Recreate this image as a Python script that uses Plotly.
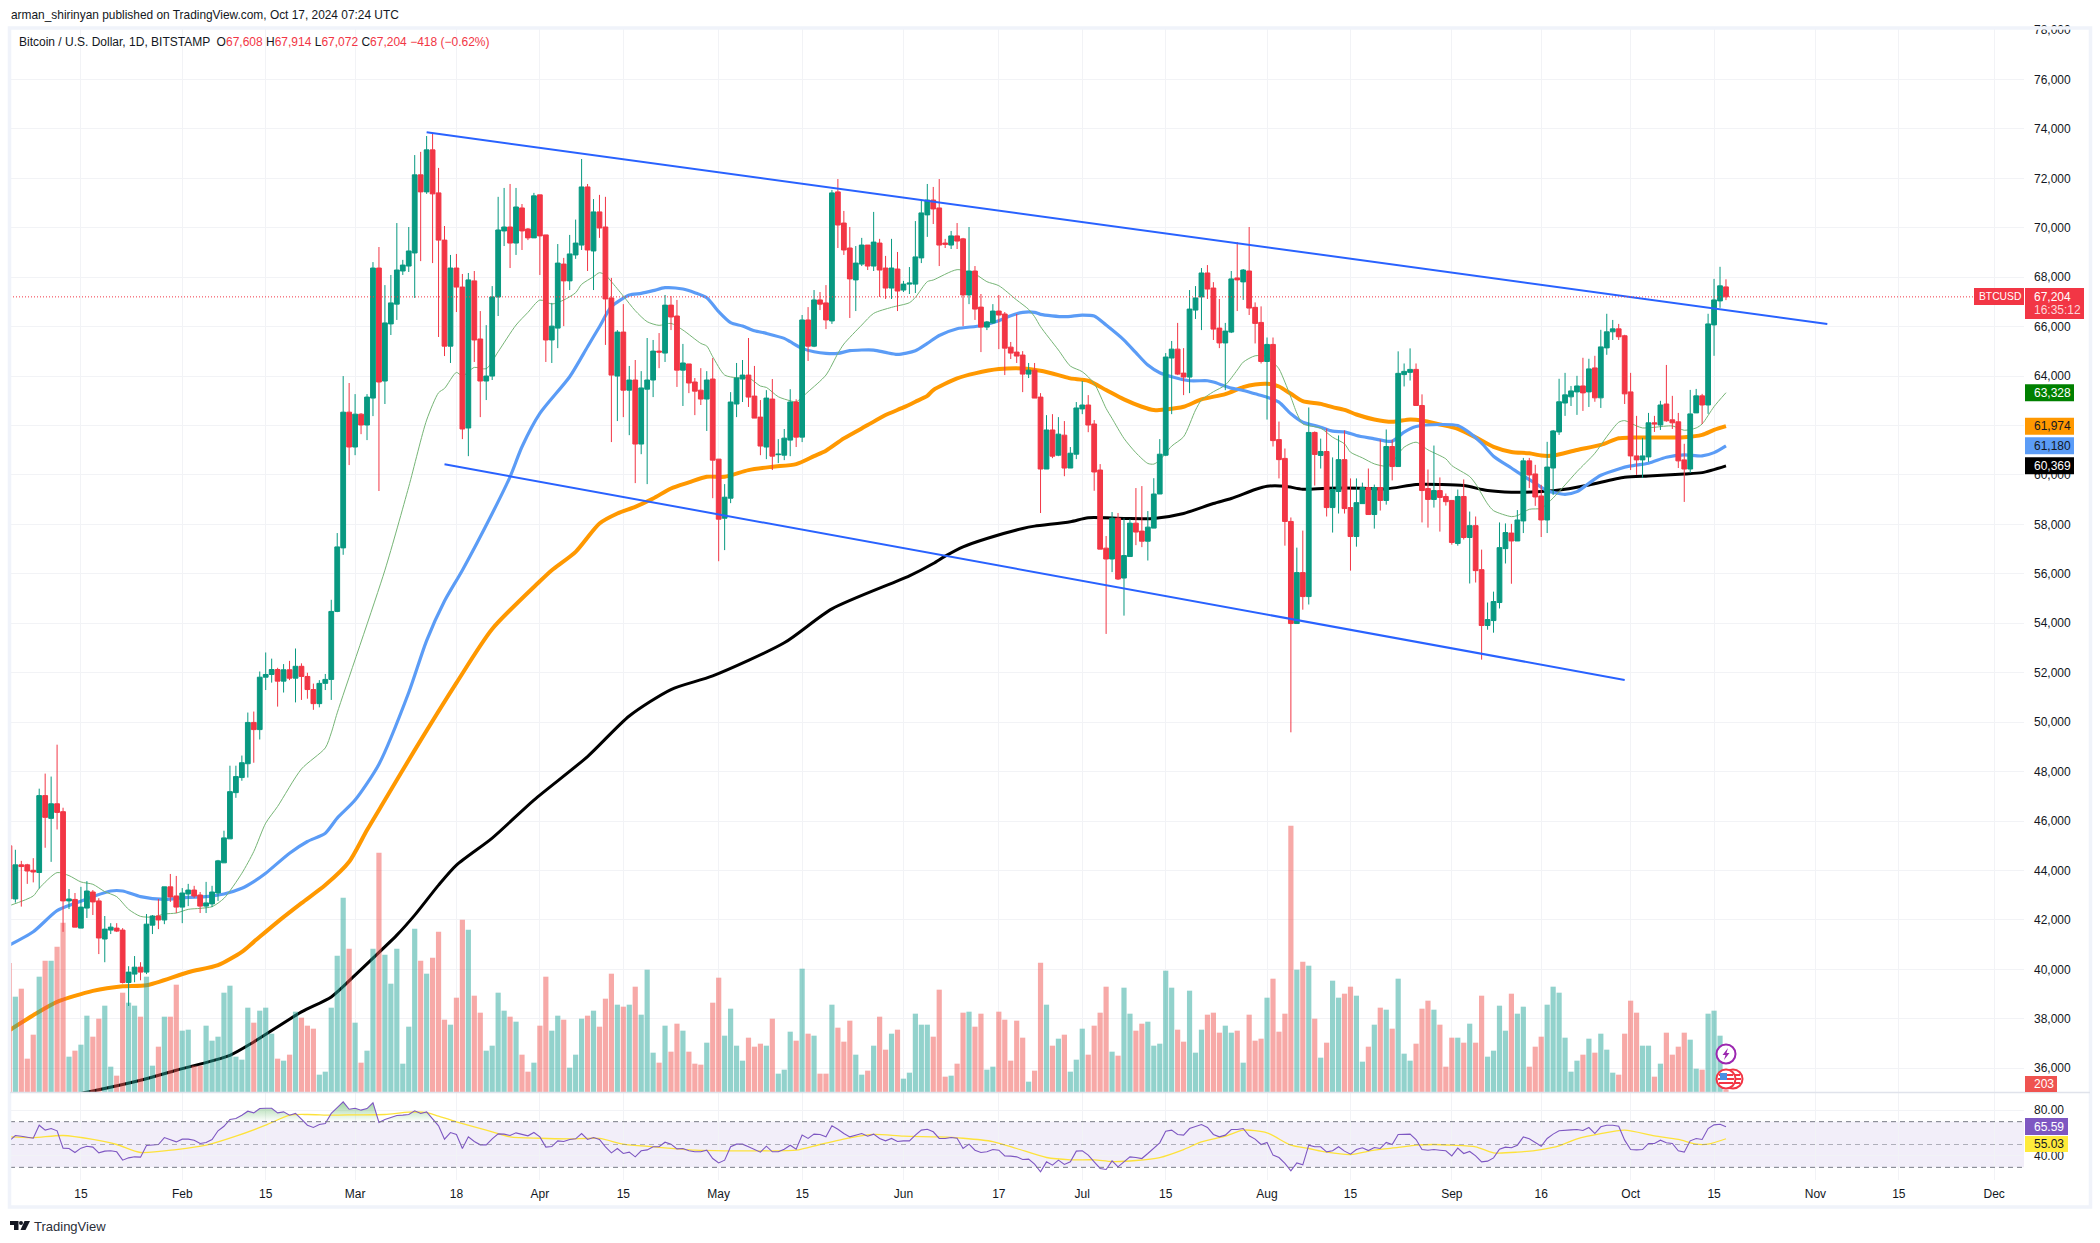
import pandas as pd
import plotly.graph_objects as go

tick_dates = ["2024-01-15","2024-02-01","2024-02-15","2024-03-01","2024-03-18","2024-04-01","2024-04-15","2024-05-01","2024-05-15","2024-06-01","2024-06-17","2024-07-01","2024-07-15","2024-08-01","2024-08-15","2024-09-01","2024-09-16","2024-10-01","2024-10-15","2024-11-01","2024-11-15","2024-12-01"]
tick_labels = ["15","Feb","15","Mar","18","Apr","15","May","15","Jun","17","Jul","15","Aug","15","Sep","16","Oct","15","Nov","15","Dec"]

open_prices = [
45000,42850,44230,44230,44010,43920,47030,46110,46700,46380,42770,42830,41670,42480,43130,42770,41230,41590,41670,41590,39470,39810,40090,39890,41790,42160,42000,43340,42970,
42520,43050,43210,43010,42560,42650,43090,44310,45280,47150,47760,48320,49990,49700,51820,51930,52130,51660,52120,51780,52260,51850,51320,50750,51570,51730,54480,57050,62540,
61130,62460,62020,63110,68370,63800,66110,66910,68250,68450,68980,72140,71450,73150,71410,69500,65210,68370,67600,61900,67850,65500,63800,64000,67200,69870,70030,69380,70800,69950,69590,
71330,69710,65460,65940,68530,67850,68900,69300,71650,69060,70640,70030,67160,64000,65780,63430,63840,61250,63470,63840,65010,64930,66870,66430,64240,64490,63760,63430,63070,63880,
60640,58250,59060,62870,63880,64040,63190,62340,61130,63070,60820,60800,61410,62950,61530,66270,65210,67080,66960,66230,71450,70190,69180,67890,68530,69300,68450,69380,68370,67560,68330,
67480,67720,67720,68780,70520,71120,70800,69380,69300,69670,69550,67280,68250,66790,65980,66150,66630,66510,65170,64970,64850,64080,64240,63150,60240,61820,60800,61610,60280,60840,
62670,62830,62060,60200,57040,56600,58250,55830,56700,58050,57730,57320,57850,59230,60800,64730,65090,64120,63960,66670,67200,68170,67560,65940,65340,65780,67970,67810,68250,66780,66170,
64590,65280,61430,60670,58120,53990,56050,55080,61720,60790,60950,58680,59330,60620,58680,57510,58840,59490,58400,59490,58970,61150,60340,64060,64150,64270,62810,59450,59010,59370,59130,
58970,57230,59130,57470,57950,56170,53910,54110,54840,57020,57650,57330,58140,60570,60040,59150,58180,60280,61740,62910,63160,63360,63600,63360,64330,63120,65140,65790,65910,65630,
63360,60770,60610,60730,62110,62020,62870,62230,62150,60610,60240,62510,63200,62830,66070,67040,67608]
high_prices = [
45500,44840,44390,44270,44500,47310,47920,47800,49090,46540,43250,43090,43340,43570,43210,42880,42160,41870,41870,41670,40130,40540,40290,42240,42200,42850,43340,43860,43780,
43290,43460,43380,43130,43540,43380,44430,45610,48240,48240,48650,50390,50430,52050,52820,52570,52200,52350,52480,52980,52380,52000,51560,51700,51950,54950,57650,64000,63720,
63270,62500,63270,68610,69220,67680,68090,70190,68700,70030,72940,73070,73710,73840,72420,70070,68900,68940,68130,68170,68250,66630,66060,67640,71250,71610,71770,71610,70960,69990,71410,
71330,69710,66960,69340,68780,69710,70330,72780,71770,71160,71330,71250,67970,65860,66910,64410,64650,64200,65540,65460,65740,67280,67240,67080,65300,64490,63920,64320,64200,64730,
60640,59630,63350,64530,64650,65540,64410,63030,63430,63880,61450,61860,63470,63060,66470,66790,67480,67400,67680,71530,71970,70680,70030,69260,69590,69300,70640,69550,68860,69550,69020,
67850,68410,70270,71120,71770,71650,71970,69550,69870,70190,69590,70030,68450,67320,66230,66910,67280,66590,65380,66510,65010,64530,64530,63310,62420,62460,62340,62180,61130,62950,
63800,63230,62220,60440,57530,58500,58460,58240,58210,59470,59550,58540,59870,61450,64930,65420,66150,65130,67480,67640,68370,68490,67800,67120,66150,68250,69420,68330,70030,66980,66820,
65560,65560,62160,61070,58280,57060,57750,62730,61760,61470,61880,60710,61600,61800,59860,59860,59690,60260,59610,61430,61840,61430,65000,64510,65120,64510,63260,60220,61190,59900,59250,
58970,59410,59820,58520,58320,56980,54840,55280,58080,58040,58020,58580,60690,60690,60410,59600,61340,61820,63890,64130,63600,64010,64740,64700,64820,65870,66520,66270,66110,65670,
64130,62390,61500,62510,62390,63000,64450,63200,62510,61260,63440,63480,63280,66520,67930,68420,67914]
low_prices = [
40750,42700,42540,43460,43520,43270,44920,44350,45660,41520,42440,41710,41670,42080,42200,40620,40290,41430,41510,39430,38520,39480,39560,39810,41430,41630,41830,42730,42280,
41870,42560,42890,42280,42280,42520,42770,44310,45280,46940,47630,47760,48360,49300,51300,51600,50630,51200,51700,50800,50900,50950,50500,50600,51300,50900,54450,56770,60400,
60800,61650,61410,62380,59350,62870,65660,66270,68090,68210,67160,68650,71370,68570,65580,64810,64530,66590,61450,60760,64570,62340,63030,63840,66430,69260,68370,68900,69100,69500,69590,
68090,64570,64530,65130,66020,67480,68740,69100,68250,67480,69590,65260,61330,62180,62340,61610,59670,60840,59630,63150,64320,64570,65860,63560,62790,63310,62420,62830,61780,59060,
56510,56960,58860,62340,62950,62750,62300,60800,60640,60200,60480,60600,60760,61130,61330,64610,65170,66670,65900,66110,69180,68900,66350,66630,68450,68290,68250,67200,67120,67120,66630,
67400,67320,67360,68570,69630,70150,68450,69180,69140,69140,66020,66910,66270,64970,65860,66110,65090,64040,64690,64530,63350,63920,63110,58460,60240,60680,60760,59950,60280,60640,
62460,61730,59360,57000,53570,56070,55750,54310,56700,57160,57080,56540,57850,59230,60760,62460,64040,63230,63310,66310,65860,67120,65460,65130,63430,65740,66630,67080,66470,65320,64510,
62240,61150,59860,57140,49590,53990,54550,54760,59570,60260,58320,57670,58440,58440,56130,57100,58840,58400,57830,58560,58800,59780,60340,63580,63820,62810,58080,57870,58680,57710,58760,
57180,57140,57390,55610,55650,52530,53740,53620,54600,56420,55600,57330,57650,59470,58750,57490,57650,59190,61620,62390,62790,62430,62590,62750,62960,62710,64860,65460,65460,62870,
60200,60000,59880,60530,61740,61820,62150,61860,60280,58910,60080,62510,62060,62470,64820,66760,67072]
close_prices = [
42860,44230,44160,43980,43940,47030,46150,46700,46350,42770,42850,41710,42520,43170,42730,41270,41630,41710,41550,39470,39890,40090,39890,41830,42160,42000,43340,42930,42520,
43090,43210,42970,42560,42690,43130,44390,45320,47190,47800,48360,49990,49700,51820,51930,52130,51660,52120,51780,52260,51850,51320,50750,51570,51730,54480,57090,62540,61130,
62460,62020,63150,68370,63760,66150,66960,68290,68490,69060,72140,71450,73150,71370,69500,65210,68370,67600,61860,67890,65460,63800,64000,67200,69910,70030,69380,70840,69870,69590,71290,
69670,65460,66020,68570,67850,68940,69380,71650,69100,70640,69990,67120,64040,65780,63430,63840,61250,63520,63840,65010,64970,66870,66390,64240,64530,63720,63390,63070,63840,60600,
58210,59100,62950,63920,64040,63150,62300,61170,63110,60760,60840,61490,62950,61530,66270,65210,67080,66910,66270,71410,70110,69100,67930,68570,69300,68450,69420,68290,67560,68370,67440,
67720,67760,68820,70600,71120,70760,69300,69330,69670,69460,67280,68250,66710,65980,66190,66630,66470,65130,64930,64810,64080,64240,63110,60240,61820,60760,61650,60280,60880,62710,
62830,62020,60120,57000,56600,58250,55790,56740,58050,57690,57320,57890,59230,60840,64770,65090,64080,63960,66710,67160,68170,67520,65900,65340,65820,67930,67890,68290,66750,66130,64590,
65280,61390,60620,58120,53990,56050,55080,61720,60830,60950,58680,59410,60620,58640,57510,58880,59490,58400,59490,58970,61150,60340,64110,64190,64270,62810,59370,59010,59370,59090,58920,
57270,59130,57470,57950,56130,53910,54150,54880,57060,57670,57330,58180,60570,60000,59110,58180,60320,61780,62960,63240,63400,63600,63320,64290,63120,65180,65790,65910,65590,63280,
60770,60610,60770,62110,62060,62830,62190,62110,60570,60240,62470,63200,62830,66110,67080,67650,67204]
# volume, in units of 29 BTC (the last bar is the 203 on the axis)
volume_units = [
387,286,310,100,172,346,394,394,436,508,106,124,142,229,166,220,259,76,49,298,268,259,226,346,79,136,226,226,322,
184,187,79,79,199,154,166,298,319,106,97,253,208,244,253,175,100,94,112,241,223,199,190,52,61,253,409,583,430,
208,88,124,430,718,412,325,430,85,196,490,394,355,403,481,217,202,283,517,487,289,238,124,139,298,244,226,211,112,61,88,
199,346,184,229,217,73,112,220,229,244,196,280,355,262,256,262,316,232,367,118,88,199,121,205,184,121,85,82,148,268,
343,169,250,139,94,163,136,145,139,220,55,67,181,154,370,175,169,55,55,262,193,151,214,112,52,64,139,226,127,175,187,
40,58,235,202,202,166,307,46,49,85,238,241,196,235,67,76,241,217,94,214,163,31,64,388,262,139,160,172,61,97,
190,112,199,238,316,121,109,313,235,184,205,211,139,145,364,313,187,151,304,118,187,232,238,178,199,178,184,88,232,154,160,
283,340,181,235,799,367,391,379,220,103,148,334,283,295,316,289,91,136,202,253,247,190,340,115,94,145,250,274,247,202,76,
163,163,148,205,148,289,106,124,259,184,295,235,256,76,136,166,262,316,298,163,61,94,112,160,118,175,127,58,52,175,
274,238,139,139,46,85,178,112,136,178,157,70,67,235,244,169,7]
rsi_values = [
53.2,57.9,57.3,56.4,55.5,66.9,62.6,64,62,46.8,46.5,43,46.8,48.5,47.7,42.7,44.2,44.5,43.6,36.3,38.3,39.2,38.9,49.1,49.7,50,56.1,54.4,52.3,
54.7,54.7,53.8,50.9,51.8,54.4,62,66,71.9,72.8,75.7,79.2,77.7,81.5,81.8,81.8,77.7,78.6,75.7,77.2,72.2,66.9,64.9,67.5,68.4,77.2,82.4,87.4,80.9,
81.8,80.1,81.5,86.5,69.3,71.9,73.6,75.4,75.7,76.3,79.5,77.2,78.6,72.8,66.4,54.7,60.5,58.8,46.5,56.7,52.6,49.7,49.7,55,59.3,59.1,57.9,60.2,58.8,57.6,60.5,
56.7,47.7,48.2,53.2,52.6,54.4,55,59.6,54.4,56.1,54.4,48,42.7,46.5,42.1,43.3,39.2,44.5,45.3,48,48,52,50.3,46.2,46.5,44.5,43.6,43.6,45,37.7,
33.9,36.3,48,50.3,50.3,48,45.9,43.3,48.5,43.6,43.6,45.9,49.4,45.9,58.2,55.3,59.1,58.8,56.7,66.4,63.4,59.6,56.7,58.2,59.6,57.3,59.1,55.3,53.2,55.3,52.6,
53.2,53.2,58.2,62.6,63.4,61.1,55.3,55.3,56.1,55.5,46.5,50.3,45,43,43.6,45.6,45,40,39.8,39.2,36.9,37.2,32.8,26.1,34.8,31.9,36.3,32.5,34.8,44.2,
44.5,40.7,34.8,29,28.1,35.7,30.4,34.8,39.2,38.6,37.7,42.1,46.5,51.5,61.7,62.6,58.8,58.2,64,65.5,67.5,64.9,58.8,56.7,58.2,63.1,63.1,64,57.6,54.7,50,
51.8,40.7,38.6,33.4,26.9,33.9,32.2,49.4,48,48,43.6,44.5,48,44.2,41.5,45.6,47.1,44.7,47.4,46.5,51.8,50,58.8,59.1,59.1,54.4,45.6,45,45.6,45,44.5,
40,46.8,42.1,43.9,40,34.8,35.4,38.3,45.9,47.7,47.1,49.4,56.7,55,51.8,48.5,55.3,59.1,62,62.6,62.8,63.1,62.3,64.9,59.6,65.5,66.9,66.9,66,53.8,
45.6,45.3,45.6,50.9,50.9,53.8,51.5,50.9,44.5,43.3,53.2,55.3,54.4,64,67.2,67.8,65.59]

rsi_ma_dates = ["01-03","01-07","01-12","01-17","01-21","01-25","01-31","02-05","02-10","02-15","02-19","02-22","02-26","03-01","03-06","03-10","03-13","03-15","03-18","03-23","03-27","04-01","04-06","04-11","04-15","04-20","04-24","04-27","05-02","05-08","05-14","05-18","05-23","05-27","06-01","06-07","06-11","06-16","06-20","06-25","06-29","07-03","07-06","07-10","07-14","07-18","07-21","07-25","07-28","08-01","08-05","08-08","08-11","08-15","08-19","08-23","08-26","08-29","09-01","09-05","09-08","09-12","09-16","09-19","09-22","09-26","09-30","10-05","10-09","10-12","10-14","10-17"]
rsi_ma_values = [56.7,56.1,57.9,54.4,50,43,45.6,49.4,57.3,66.9,75.7,76.3,75.7,76,76.3,78.3,78,74.8,69.9,62.6,56.7,55.5,55,55.3,50.3,48,46.2,45,44.5,44.5,45,50,55.8,58.8,57.3,56.7,55.5,52.6,46.5,38.6,36.6,36.6,35.1,36,38.6,45.6,52.3,57.3,62.6,60.2,49.4,46.5,43.3,41.2,45,47.4,49.4,50,49.4,48,42.7,43.3,45.6,48.8,55,59.6,62.6,57.6,54.4,50.3,50.3,55.03]

ma_green_dates = ["01-03","01-07","01-08","01-11","01-13","01-15","01-17","01-19","01-21","01-23","01-25","01-27","01-29","01-31","02-02","02-04","02-06","02-08","02-11","02-13","02-15","02-17","02-21","02-25","02-26","02-27","03-06","03-10","03-13","03-15","03-16","03-18","03-19","03-21","03-23","03-25","03-28","03-30","04-01","04-03","04-05","04-07","04-08","04-10","04-11","04-12","04-13","04-15","04-17","04-19","04-21","04-23","04-25","04-28","04-29","04-30","05-02","05-04","05-06","05-08","05-09","05-11","05-13","05-14","05-16","05-19","05-21","05-22","05-25","05-27","05-30","06-02","06-03","06-05","06-06","06-10","06-13","06-15","06-17","06-20","06-22","06-23","06-24","06-27","06-29","07-01","07-03","07-05","07-06","07-08","07-10","07-12","07-13","07-14","07-16","07-18","07-20","07-21","07-23","07-25","07-27","07-28","07-30","08-01","08-02","08-03","08-04","08-05","08-06","08-07","08-10","08-12","08-14","08-15","08-17","08-19","08-21","08-22","08-24","08-26","08-28","08-31","09-01","09-04","09-05","09-07","09-08","09-11","09-12","09-14","09-16","09-18","09-20","09-22","09-25","09-27","09-29","09-30","10-02","10-03","10-05","10-08","10-10","10-12","10-13","10-15","10-17"]
ma_green_values = [42577,42970,43280,43916,43794,43537,43443,43145,42942,42429,42145,42118,42240,42280,42429,42469,42537,42875,43889,44768,45917,46593,48107,48959,49567,50378,56149,59522,62220,63326,63500,64148,64000,64351,64297,64985,66064,66577,67076,66914,67076,67373,67710,68020,68182,68088,67818,67238,66645,66199,66051,66132,65862,65322,65214,64783,64041,63933,63933,63596,63542,63164,63002,62961,63366,64041,64918,65295,66064,66536,66780,66968,67184,67818,67886,68304,68128,67818,67656,67076,66698,66402,65997,65053,64405,64176,63703,62691,62287,61478,60898,60466,60439,60601,61167,61545,62624,63029,63366,63636,64243,64564,64820,64793,64564,64294,63754,63147,62500,62068,61892,61528,61258,60921,60692,60449,60355,60517,61123,61326,61016,60651,60381,59935,59640,58830,58557,58314,58355,58611,58651,59069,59596,60135,60877,61552,62132,62199,61983,61902,61929,61983,61808,61902,62064,62766,63328]

ma_blue_dates = ["01-03","01-07","01-11","01-14","01-17","01-20","01-22","01-25","01-29","02-02","02-05","02-08","02-11","02-13","02-15","02-19","02-22","02-25","02-27","03-01","03-05","03-10","03-13","03-16","03-19","03-24","03-27","03-29","04-01","04-06","04-09","04-11","04-13","04-16","04-18","04-20","04-22","04-25","04-27","04-29","05-01","05-03","05-05","05-07","05-09","05-12","05-13","05-15","05-17","05-19","05-21","05-23","05-27","05-29","05-31","06-03","06-05","06-07","06-10","06-14","06-17","06-19","06-21","06-23","06-24","06-28","07-01","07-03","07-05","07-08","07-10","07-12","07-14","07-16","07-19","07-22","07-23","07-26","07-28","07-30","08-01","08-03","08-05","08-07","08-10","08-12","08-14","08-16","08-19","08-21","08-22","08-24","08-26","08-30","09-02","09-04","09-06","09-08","09-11","09-13","09-15","09-17","09-20","09-22","09-24","09-26","09-29","10-01","10-04","10-07","10-10","10-13","10-15","10-17"]
ma_blue_values = [40982,41523,42375,42672,42942,43172,43172,42942,42834,42916,42942,43051,43281,43551,43889,44700,45173,45511,46120,46850,48300,51200,53300,54900,56149,58442,59926,61141,62490,63973,65187,65997,66806,67279,67346,67454,67575,67521,67373,67170,66604,66159,66024,65835,65727,65525,65390,65120,64985,64918,64918,65026,65053,64958,64877,65026,65322,65640,65916,66037,66240,66442,66577,66577,66496,66402,66469,66429,66064,65457,64945,64445,64135,63973,63811,63811,63757,63511,63417,63282,63147,62945,62473,62135,61933,61771,61744,61596,61461,61366,61366,61730,61960,62041,62000,61703,61285,60760,60280,59960,59663,59366,59218,59326,59663,59987,60243,60365,60473,60716,60810,60770,60904,61180]

ma_orange_dates = ["01-03","01-07","01-11","01-17","01-22","01-26","02-02","02-07","02-11","02-13","02-17","02-21","02-25","02-29","03-03","03-06","03-11","03-18","03-24","04-01","04-03","04-07","04-11","04-14","04-17","04-20","04-23","04-26","04-29","05-02","05-06","05-10","05-14","05-17","05-19","05-22","05-26","05-29","06-01","06-03","06-05","06-06","06-10","06-13","06-17","06-21","06-24","06-27","06-29","07-02","07-05","07-08","07-11","07-13","07-15","07-18","07-21","07-25","07-28","07-30","08-01","08-03","08-05","08-07","08-10","08-12","08-14","08-16","08-19","08-22","08-25","08-27","08-30","09-02","09-05","09-08","09-11","09-14","09-16","09-18","09-22","09-26","09-29","10-01","10-05","10-10","10-13","10-15","10-17"]
ma_orange_values = [37539,38146,38685,39130,39320,39360,39887,40170,40709,41114,41924,42680,43410,44353,45637,46850,48870,51590,53770,55700,56149,56891,58038,58442,58712,59049,59454,59697,59926,59926,60196,60331,60439,60763,60979,61478,62017,62422,62732,62962,63200,63434,63906,64108,64283,64311,64216,64041,63906,63812,63434,63056,62759,62624,62651,62759,63056,63272,63552,63660,63687,63579,63282,62985,62877,62742,62634,62445,62243,62149,62243,62203,62041,61866,61520,61135,60930,60877,60783,60783,61012,61214,61484,61511,61511,61525,61619,61822,61974]

ma_black_dates = ["01-10","01-16","01-25","01-31","02-09","02-13","02-21","02-26","03-01","03-04","03-08","03-11","03-15","03-18","03-24","03-31","04-09","04-16","04-23","04-30","05-12","05-20","06-02","06-06","06-08","06-11","06-15","06-21","06-23","06-29","07-02","07-08","07-13","07-18","07-23","07-26","07-30","08-01","08-04","08-07","08-11","08-17","08-21","08-26","08-30","09-03","09-07","09-11","09-16","09-20","09-24","09-30","10-04","10-10","10-13","10-17"]
ma_black_values = [34750,35028,35514,35919,36526,37065,38280,38887,39766,40454,41385,42195,43410,44220,45313,46851,48610,50250,51320,51870,53210,54585,55920,56420,56717,57094,57431,57836,57930,58106,58268,58240,58240,58443,58847,59049,59413,59546,59546,59424,59464,59464,59437,59613,59613,59572,59370,59302,59326,59420,59596,59906,59960,60041,60095,60369]

trend_upper_dates = ["2024-03-13","2024-11-03"]
trend_upper_values = [73860,66110]
trend_lower_dates = ["2024-03-16","2024-09-30"]
trend_lower_values = [60430,51710]

last_price = 67204
W, H = 2100, 1243
UP, DOWN = "#089981", "#F23645"
FONT = "Liberation Sans"
TEXT = "#131722"

n = len(open_prices)
for name, lst in [("high", high_prices), ("low", low_prices), ("close", close_prices), ("vol", volume_units), ("rsi", rsi_values)]:
    assert len(lst) == n, (name, len(lst), n)
assert n == 289, n
dates = pd.date_range("2024-01-03", periods=n, freq="D")
volume = [v * 29 for v in volume_units]
vol_colors = ["rgba(38,166,154,0.5)" if c >= o else "rgba(239,83,80,0.5)" for o, c in zip(open_prices, close_prices)]
full = lambda md: ["2024-" + d for d in md]
X = lambda x: x / W
Y = lambda y: 1 - y / H

price_range = [35041, 78039]
x_range = ["2024-01-03 02:24", "2024-12-06 00:00"]

fig = go.Figure()
# moving averages underneath everything
for d, v, col, wd in [(ma_black_dates, ma_black_values, "#000000", 3),
                      (ma_orange_dates, ma_orange_values, "#FF9800", 4),
                      (ma_blue_dates, ma_blue_values, "#5B9CF6", 3.2),
                      (ma_green_dates, ma_green_values, "#76B576", 1)]:
    fig.add_trace(go.Scatter(x=full(d), y=v, mode="lines", line=dict(color=col, width=wd, shape="spline", smoothing=0.7), xaxis="x", yaxis="y", hoverinfo="skip"))
fig.add_trace(go.Bar(x=dates, y=volume, marker=dict(color=vol_colors, line=dict(width=0)), xaxis="x", yaxis="y2", hoverinfo="skip"))
fig.add_trace(go.Candlestick(x=dates, open=open_prices, high=high_prices, low=low_prices, close=close_prices,
                             increasing=dict(line=dict(color=UP, width=1), fillcolor=UP),
                             decreasing=dict(line=dict(color=DOWN, width=1), fillcolor=DOWN),
                             whiskerwidth=0, xaxis="x", yaxis="y3", hoverinfo="skip"))
for d, v in [(trend_upper_dates, trend_upper_values), (trend_lower_dates, trend_lower_values)]:
    fig.add_trace(go.Scatter(x=d, y=v, mode="lines", line=dict(color="#2962FF", width=2), xaxis="x", yaxis="y4", hoverinfo="skip"))

# RSI pane
fig.add_trace(go.Scatter(x=dates, y=[70] * n, mode="lines", line=dict(width=0), xaxis="x2", yaxis="y5", hoverinfo="skip"))
fig.add_trace(go.Scatter(x=dates, y=[max(r, 70) for r in rsi_values], mode="lines", line=dict(width=0), fill="tonexty",
                         fillgradient=dict(type="vertical", colorscale=[[0, "rgba(76,175,80,0)"], [1, "rgba(76,175,80,0.55)"]]),
                         xaxis="x2", yaxis="y5", hoverinfo="skip"))
fig.add_trace(go.Scatter(x=full(rsi_ma_dates), y=rsi_ma_values, mode="lines", line=dict(color="#FDE23B", width=1.3, shape="spline", smoothing=0.7), xaxis="x2", yaxis="y5", hoverinfo="skip"))
fig.add_trace(go.Scatter(x=dates, y=rsi_values, mode="lines", line=dict(color="#7E57C2", width=1.1), xaxis="x2", yaxis="y5", hoverinfo="skip"))

GRID = "#F2F3F6"
axis_font = dict(family=FONT, size=12, color=TEXT)
hidden_y = dict(domain=[Y(1092), Y(29)], overlaying="y", side="right", visible=False, showgrid=False, fixedrange=True, anchor="x")
fig.update_layout(
    width=W, height=H, margin=dict(l=0, r=0, t=0, b=0, autoexpand=False), paper_bgcolor="white", plot_bgcolor="white",
    showlegend=False, bargap=0.13, boxgap=0.2, boxgroupgap=0,
    xaxis=dict(domain=[X(10), X(2024)], range=x_range, type="date", anchor="y", tickvals=tick_dates, ticktext=tick_labels,
               showticklabels=False, showgrid=True, gridcolor=GRID, gridwidth=1, zeroline=False, ticks="", rangeslider=dict(visible=False), showline=False),
    xaxis2=dict(domain=[X(10), X(2024)], range=x_range, type="date", anchor="y5", matches="x", tickvals=tick_dates, ticktext=tick_labels,
                showticklabels=True, showgrid=True, gridcolor=GRID, gridwidth=1, zeroline=False, ticks="", tickfont=axis_font, ticklabelstandoff=5, showline=False),
    yaxis=dict(domain=[Y(1092), Y(29)], range=price_range, side="right", anchor="x", dtick=2000, tick0=36000, tickformat=",d", showgrid=True,
               gridcolor=GRID, zeroline=False, ticks="", tickfont=axis_font, ticklabelstandoff=9, showline=False),
    yaxis2=dict(range=[0, 92500], **hidden_y),
    yaxis3=dict(range=price_range, **hidden_y),
    yaxis4=dict(range=price_range, **hidden_y),
    yaxis5=dict(domain=[Y(1180), Y(1092)], range=[18.9, 96], side="right", anchor="x2", tickvals=[40, 80], tickformat=".2f", showgrid=True,
                gridcolor=GRID, zeroline=False, ticks="", tickfont=axis_font, ticklabelstandoff=9, showline=False),
)

shapes = []
annots = []
# RSI band and levels
shapes.append(dict(type="rect", xref="x2 domain", yref="y5", x0=0, x1=1, y0=30, y1=70, fillcolor="rgba(126,87,194,0.1)", line=dict(width=0), layer="below"))
for lvl, col in [(70, "#787B86"), (50, "rgba(120,123,134,0.55)"), (30, "#787B86")]:
    shapes.append(dict(type="line", xref="x2 domain", yref="y5", x0=0, x1=1, y0=lvl, y1=lvl, line=dict(color=col, width=1, dash="5px,4px"), layer="above"))
# last price line
shapes.append(dict(type="line", xref="paper", yref="y", x0=X(10), x1=X(1974), y0=last_price, y1=last_price, line=dict(color="#F23645", width=1, dash="1px,2px"), layer="above"))
# frame + pane separator
shapes.append(dict(type="rect", xref="paper", yref="paper", x0=X(9.5), x1=X(2090.5), y0=Y(1207), y1=Y(28), line=dict(color="#F0F3FA", width=3.5), fillcolor="rgba(0,0,0,0)", layer="above"))
shapes.append(dict(type="line", xref="paper", yref="paper", x0=X(10), x1=X(2090), y0=Y(1092.5), y1=Y(1092.5), line=dict(color="#E0E3EB", width=1.5), layer="above"))

def text(x, y, s, size=12, color=TEXT, anchor="left"):
    annots.append(dict(xref="paper", yref="paper", x=X(x), y=Y(y), text=s, showarrow=False, xanchor=anchor, yanchor="middle",
                       font=dict(family=FONT, size=size, color=color), borderpad=0))

def badge(x0, x1, y0, y1, s, bg, fg, tx=2033, size=12):
    shapes.append(dict(type="rect", xref="paper", yref="paper", x0=X(x0), x1=X(x1), y0=Y(y1), y1=Y(y0), fillcolor=bg, line=dict(width=0), layer="above"))
    if s:
        text(tx, (y0 + y1) / 2, s, color=fg, size=size)

def price_y(p):
    return 29 + (price_range[1] - p) / (price_range[1] - price_range[0]) * 1063

text(10, 14.5, "arman_shirinyan published on TradingView.com, Oct 17, 2024 07:24 UTC", size=11.9)
r = lambda s: f'<span style="color:{DOWN}">{s}</span>'
text(17.5, 42, "Bitcoin / U.S. Dollar, 1D, BITSTAMP  O" + r("67,608") + " H" + r("67,914") + " L" + r("67,072") + " C" + r("67,204") + " " + r("−418 (−0.62%)"), size=12)
text(33, 1226, "TradingView", size=13, color="#2a2e39")

badge(1974, 2024, 288, 305, "BTCUSD", DOWN, "white", tx=1978, size=10.3)
badge(2025, 2084, 288, 319, "", DOWN, "white")
text(2033, 297, "67,204", color="white")
text(2033, 310, "16:35:12", color="#FBD5D9")
for val, col, fg, s in [(63328, "#008000", "white", "63,328"), (61974, "#FF9800", TEXT, "61,974"), (61180, "#5B9CF6", TEXT, "61,180"), (60369, "#000000", "white", "60,369")]:
    yc = price_y(val)
    badge(2025, 2074, yc - 8.5, yc + 8.5, s, col, fg)
badge(2025, 2057, 1076, 1092, "203", "#EF5350", "white")
badge(2025, 2068, 1118, 1135, "65.59", "#7E57C2", "white")
badge(2025, 2068, 1136, 1152, "55.03", "#FFEB3B", TEXT)

def poly(points, fill):
    path = "M " + " L ".join(f"{X(a)} {Y(b)}" for a, b in points) + " Z"
    shapes.append(dict(type="path", xref="paper", yref="paper", path=path, fillcolor=fill, line=dict(width=0), layer="above"))

def circle(cx, cy, rad, line, fill="white", w=2):
    shapes.append(dict(type="circle", xref="paper", yref="paper", x0=X(cx - rad), x1=X(cx + rad), y0=Y(cy + rad), y1=Y(cy - rad), line=dict(color=line, width=w), fillcolor=fill, layer="above"))

# TradingView logo
poly([(10, 1221), (18.5, 1221), (18.5, 1230), (14, 1230), (14, 1225), (10, 1225)], "#131722")
circle(21, 1223, 2, "#131722", "#131722", 0)
poly([(24.5, 1221), (30, 1221), (25.5, 1230), (20.5, 1230)], "#131722")
# event markers at the right end of the candles
circle(1726, 1054, 9.5, "#9C27B0")
poly([(1728, 1048), (1722.5, 1055), (1725.5, 1055), (1724, 1060), (1729.5, 1053), (1726.5, 1053)], "#9C27B0")
for cx in (1733, 1726):
    circle(cx, 1079, 9.5, "#F23645")
    for dy, half in [(-4, 7), (0, 8), (4, 7)]:
        poly([(cx - half, 1079 + dy - 1), (cx + half, 1079 + dy - 1), (cx + half, 1079 + dy + 1), (cx - half, 1079 + dy + 1)], "#F23645")
poly([(1720, 1073), (1727, 1073), (1727, 1080), (1720, 1080)], "#4A90E2")

fig.update_layout(shapes=shapes, annotations=annots)
fig.write_html("out.html", config=dict(displayModeBar=False), post_script="document.body.style.margin='0';document.body.style.overflow='hidden';")
